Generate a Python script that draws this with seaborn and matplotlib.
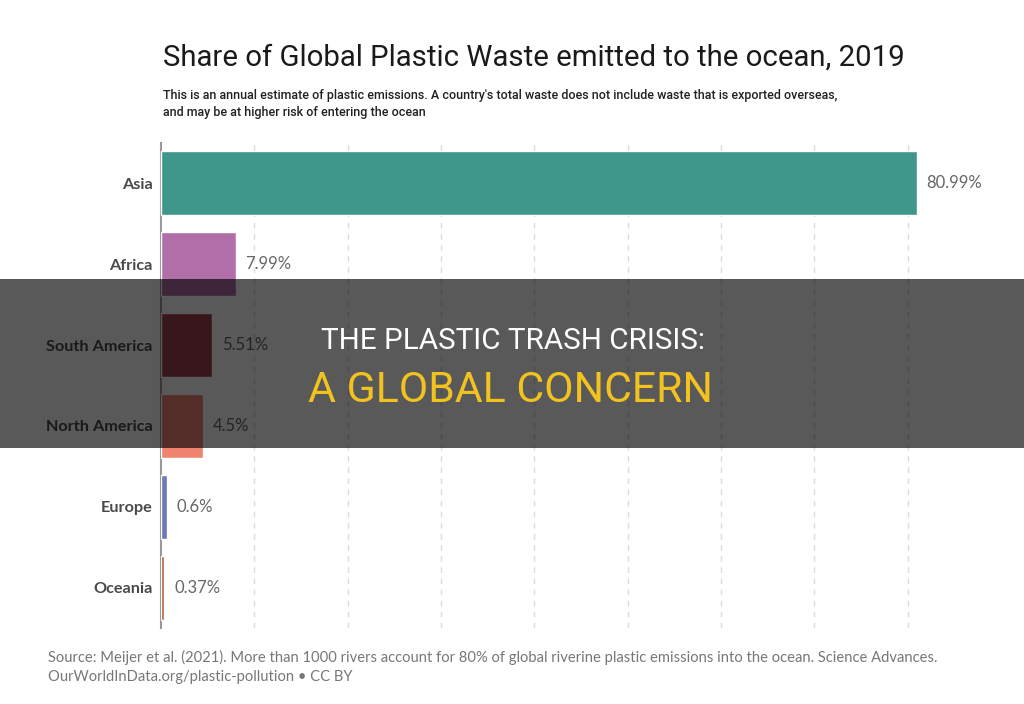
import matplotlib
matplotlib.use("Agg")
import matplotlib.pyplot as plt
import seaborn as sns
import pandas as pd
from matplotlib.patches import Rectangle

regions = ["Asia", "Africa", "South America", "North America", "Europe", "Oceania"]
shares = [80.99, 7.99, 5.51, 4.5, 0.6, 0.37]
value_labels = ["80.99%", "7.99%", "5.51%", "4.5%", "0.6%", "0.37%"]
colors = ["#3f968b", "#b06fa8", "#a24452", "#ef8370", "#6c7bb0", "#b55f3c"]

title = "Share of Global Plastic Waste emitted to the ocean, 2019"
subtitle = ("This is an annual estimate of plastic emissions. A country's total waste does not include waste that is exported overseas,\n"
            "and may be at higher risk of entering the ocean")
source = ("Source: Meijer et al. (2021). More than 1000 rivers account for 80% of global riverine plastic emissions into the ocean. Science Advances.\n"
          "OurWorldInData.org/plastic-pollution \u2022 CC BY")
banner1 = "THE PLASTIC TRASH CRISIS:"
banner2 = "A GLOBAL CONCERN"

sns.set_theme(style="white")
plt.rcParams["font.family"] = ["Lato", "DejaVu Sans"]

df = pd.DataFrame({"region": regions, "share": shares})

fig = plt.figure(figsize=(10.24, 7.04), dpi=100)
ax = fig.add_axes([161 / 1024, 1 - 628 / 704, (917 - 161) / 1024, (628 - 143) / 704])

sns.barplot(data=df, y="region", x="share", hue="region", palette=dict(zip(regions, colors)),
            order=regions, hue_order=regions, orient="h", width=0.79, dodge=False,
            legend=False, saturation=1, ax=ax, zorder=3)

ax.set_xlim(0, 80.99)
ax.set_ylim(5.5, -0.5)
ax.set_xticks(range(10, 81, 10))
ax.set_xticklabels([])
ax.tick_params(axis="x", length=0)
ax.tick_params(axis="y", length=0, pad=6)
ax.xaxis.grid(True, linestyle=(0, (4, 4)), color="#dcdcdc", linewidth=1)
ax.set_axisbelow(True)
ax.set_xlabel("")
ax.set_ylabel("")
for s in ["top", "right", "bottom"]:
    ax.spines[s].set_visible(False)
ax.spines["left"].set_color("#9a9a9a")
ax.spines["left"].set_linewidth(1.5)
for lbl in ax.get_yticklabels():
    lbl.set_fontweight("bold")
    lbl.set_fontsize(11.7)
    lbl.set_color("#4a4a4a")

for i, (v, t) in enumerate(zip(shares, value_labels)):
    ax.annotate(t, xy=(v, i), xytext=(7, 0), textcoords="offset points",
                va="center", ha="left", fontsize=12, color="#666666")
ax.patches[0].set_clip_on(False)

renderer = fig.canvas.get_renderer()


def fit_text(x, y, s, width_px, start_size, **kw):
    t = fig.text(x, y, s, fontsize=start_size, **kw)
    w = t.get_window_extent(renderer=renderer).width
    t.set_fontsize(start_size * width_px / w)
    return t


fit_text(163 / 1024, 1 - 58 / 704, title, 743, 25, color="#1a1a1a", va="center", ha="left",
         family=["Roboto", "DejaVu Sans"])
fit_text(163 / 1024, 1 - 104 / 704, subtitle, 675, 10, color="#222222", va="center", ha="left",
         family=["Roboto", "DejaVu Sans"], fontweight="medium", linespacing=1.35)
fit_text(48 / 1024, 1 - 667 / 704, source, 884, 11, color="#777777", va="center", ha="left",
         family=["Lato", "DejaVu Sans"], linespacing=1.5)

fig.add_artist(Rectangle((0, 1 - 448 / 704), 1, 169 / 704, transform=fig.transFigure,
                         facecolor="black", alpha=0.65, edgecolor="none", zorder=10))
fit_text(513 / 1024, 1 - 341 / 704, banner1, 386, 23, color="white", ha="center", va="center",
         family=["Roboto", "DejaVu Sans"], zorder=11)
fit_text(511 / 1024, 1 - 391 / 704, banner2, 404, 30, color="#f2c31e", ha="center", va="center",
         family=["Roboto", "DejaVu Sans"], zorder=11)

fig.savefig("out.png", dpi=100, facecolor="white")
